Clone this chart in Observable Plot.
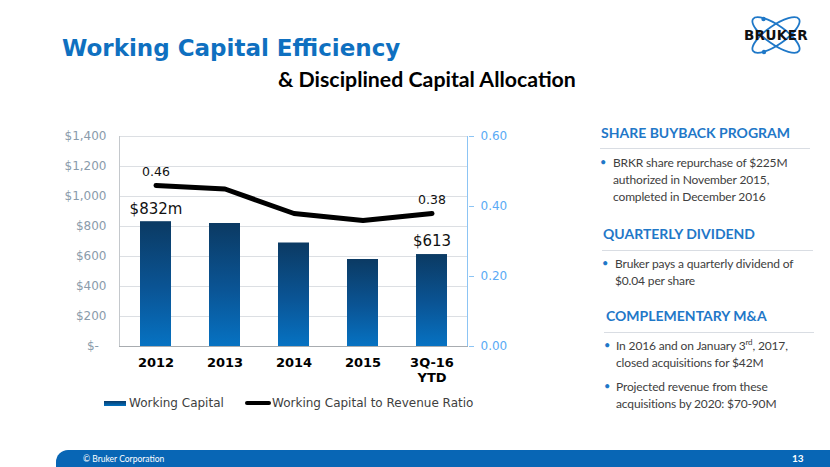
<!DOCTYPE html>
<html><head><meta charset="utf-8">
<script src="https://cdn.jsdelivr.net/npm/d3@7"></script>
<script src="https://cdn.jsdelivr.net/npm/@observablehq/plot@0.6"></script>
<style>
body{margin:0;background:#fff;}
#slide{position:relative;width:830px;height:467px;overflow:hidden;background:#fff;font-family:Lato,"Open Sans",sans-serif;}
.abs{position:absolute;white-space:nowrap;}
#title{left:62px;top:35px;font-family:"DejaVu Sans";font-weight:bold;font-size:23px;color:#0f70c0;}
#subtitle{left:278px;top:66px;font-family:Lato;font-weight:bold;font-size:21.3px;color:#000;}
#chart{position:absolute;left:0;top:120px;}
#chart svg g[aria-label="x-axis tick label"]{font-weight:bold;font-size:13px;}
.leg{font-family:"DejaVu Sans";font-size:12px;color:#404040;top:396px;}
.sw{position:absolute;}
.head{font-family:Lato;font-weight:bold;font-size:14px;color:#1f78c8;}
.rule{position:absolute;height:0;border-top:1.5px solid #d9dde3;}
.bul{font-family:Lato;font-size:12px;letter-spacing:-0.15px;color:#404040;line-height:17px;}
.dot{font-family:Lato;font-size:11px;color:#1f78c8;}
#footer{position:absolute;left:56px;top:450px;width:790px;height:17px;background:#0866b5;border-top-left-radius:12px;}
</style></head><body>
<div id="slide">
  <div id="title" class="abs">Working Capital Efficiency</div>
  <div id="subtitle" class="abs">&amp; Disciplined Capital Allocation</div>
  <svg class="abs" style="left:740px;top:0px" width="90" height="70" viewBox="0 0 90 70">
    <g fill="none" stroke="#1f78c8" stroke-width="1.8">
      <ellipse cx="36" cy="35" rx="28" ry="9.5" transform="rotate(35 36 35)"/>
      <ellipse cx="36" cy="35" rx="28" ry="9.5" transform="rotate(-35 36 35)"/>
    </g>
    <g fill="#1f78c8">
      <circle cx="23.5" cy="19" r="2.2"/><circle cx="24" cy="52" r="2.2"/>
    </g>
    <text x="36" y="40" text-anchor="middle" font-family="DejaVu Sans" font-weight="bold" font-size="13.5" letter-spacing="0.4" fill="#111">BRUKER</text>
  </svg>
  <div id="chart"></div>

  <div class="sw" style="left:104px;top:401px;width:22px;height:5px;background:linear-gradient(#0a3b6a,#0070c0);"></div>
  <div class="abs leg" style="left:129px;">Working Capital</div>
  <div class="sw" style="left:245px;top:401px;width:26px;height:4px;background:#000;border-radius:2px;"></div>
  <div class="abs leg" style="left:272px;">Working Capital to Revenue Ratio</div>

  <div class="abs head" style="left:601px;top:124px;">SHARE BUYBACK PROGRAM</div>
  <div class="rule" style="left:600px;top:148px;width:210px;"></div>
  <div class="abs dot" style="left:600px;top:155px;">•</div>
  <div class="abs bul" style="left:613px;top:154px;">BRKR share repurchase of $225M<br>authorized in November 2015,<br>completed in December 2016</div>

  <div class="abs head" style="left:603px;top:225px;">QUARTERLY DIVIDEND</div>
  <div class="rule" style="left:602px;top:250px;width:211px;"></div>
  <div class="abs dot" style="left:602px;top:256px;">•</div>
  <div class="abs bul" style="left:615px;top:255px;">Bruker pays a quarterly dividend of<br>$0.04 per share</div>

  <div class="abs head" style="left:606px;top:307px;">COMPLEMENTARY M&amp;A</div>
  <div class="rule" style="left:604px;top:332px;width:210px;"></div>
  <div class="abs dot" style="left:604px;top:338px;">•</div>
  <div class="abs bul" style="left:616px;top:337px;">In 2016 and on January 3<sup style="font-size:8px;line-height:0">rd</sup>, 2017,<br>closed acquisitions for $42M</div>
  <div class="abs dot" style="left:604px;top:379px;">•</div>
  <div class="abs bul" style="left:616px;top:378px;">Projected revenue from these<br>acquisitions by 2020: $70-90M</div>

  <div id="footer"></div>
  <div class="abs" style="left:83px;top:454px;font-family:Lato;font-size:8.5px;color:#fff;">© Bruker Corporation</div>
  <div class="abs" style="left:792px;top:452px;font-family:Lato;font-weight:bold;font-size:10px;color:#fff;">13</div>
</div>
<script>
const years = ["2012", "2013", "2014", "2015", "3Q-16\nYTD"];
const workingCapital = [832, 820, 690, 580, 613];
const revenueRatio = [0.46, 0.45, 0.38, 0.36, 0.38];
const barLabels = ["$832m", "", "", "", "$613"];
const ratioLabels = ["0.46", "", "", "", "0.38"];
const leftTicks = [0, 200, 400, 600, 800, 1000, 1200, 1400];
const rightTicks = [0, 0.2, 0.4, 0.6];
const leftMax = 1400, rightMax = 0.6;

const toLeft = r => r * leftMax / rightMax;
const data = years.map((y, i) => ({
  year: y, wc: workingCapital[i], ratio: revenueRatio[i], ratioY: toLeft(revenueRatio[i]),
  barLabel: barLabels[i], ratioLabel: ratioLabels[i]
}));

const defs = () => {
  const g = d3.create("svg:g");
  const grad = g.append("defs").append("linearGradient")
    .attr("id", "wcGrad").attr("x1", 0).attr("x2", 0).attr("y1", 0).attr("y2", 1);
  grad.append("stop").attr("offset", "0%").attr("stop-color", "#0b3a63");
  grad.append("stop").attr("offset", "55%").attr("stop-color", "#0a5596");
  grad.append("stop").attr("offset", "100%").attr("stop-color", "#0672c2");
  return g.node();
};
const axisLines = (index, scales, values, dims) => {
  const g = d3.create("svg:g");
  const top = dims.marginTop, bottom = dims.height - dims.marginBottom;
  const left = dims.marginLeft, right = dims.width - dims.marginRight;
  g.append("line").attr("x1", left + 0.5).attr("x2", left + 0.5).attr("y1", top).attr("y2", bottom).attr("stroke", "#c4c8cc");
  g.append("line").attr("x1", right - 0.5).attr("x2", right - 0.5).attr("y1", top).attr("y2", bottom).attr("stroke", "#8cc4f4");
  return g.node();
};

const chart = Plot.plot({
  width: 520, height: 270,
  marginLeft: 119, marginRight: 52, marginTop: 16, marginBottom: 44,
  x: {domain: years, paddingInner: 0.55, paddingOuter: 0.275, label: null},
  y: {domain: [0, leftMax], label: null},
  style: {fontFamily: "DejaVu Sans", fontSize: "12px", background: "transparent", overflow: "visible"},
  marks: [
    defs,
    Plot.ruleY(leftTicks.slice(1), {stroke: "#dcdfe3"}),
    axisLines,
    Plot.axisY({ticks: leftTicks, tickSize: 0, tickPadding: 13, fill: "#8a9bab", label: null,
      tickFormat: d => d === 0 ? "$-\u00a0\u00a0" : "$" + d3.format(",")(d)}),
    Plot.axisY({anchor: "right", ticks: rightTicks.map(toLeft), tickSize: 5, tickPadding: 7,
      stroke: "#8cc4f4", fill: "#5aaaf5", label: null,
      tickFormat: d => d3.format(".2f")(d * rightMax / leftMax)}),
    Plot.axisX({tickSize: 0, tickPadding: 10, fill: "#000", label: null, lineHeight: 1.15}),
    Plot.barY(data, {x: "year", y: "wc", fill: "url(#wcGrad)"}),
    Plot.ruleY([0], {stroke: "#a8acb0"}),
    Plot.line(data, {x: "year", y: "ratioY", stroke: "#000", strokeWidth: 5}),
    Plot.text(data, {filter: d => d.barLabel, x: "year", y: "wc", text: "barLabel", dy: -13, fontSize: 15, fill: "#111"}),
    Plot.text(data, {filter: d => d.ratioLabel, x: "year", y: "ratioY", text: "ratioLabel", dy: -14, fontSize: 12.5, fill: "#111"})
  ]
});
document.getElementById("chart").appendChild(chart);
</script>
</body></html>
